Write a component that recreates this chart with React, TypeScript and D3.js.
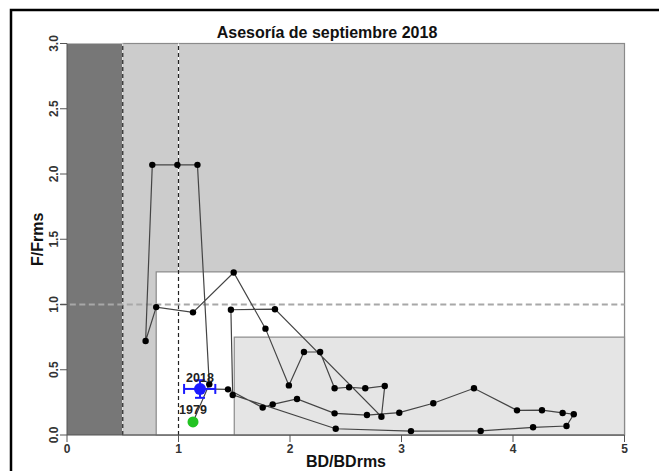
import React from 'react';
import * as d3 from 'd3';

// BD/BDrms and F/Frms, 1979 .. 2018
const bdValues = [
  1.13, 1.276, 1.17, 0.99, 0.765, 0.705, 0.8, 1.13, 1.495, 1.78,
  1.99, 2.125, 2.27, 2.4, 2.53, 2.675, 2.85, 2.82, 1.865, 1.47,
  1.486, 2.41, 3.085, 3.71, 4.18, 4.48, 4.545, 4.445, 4.26, 4.036,
  3.65, 3.285, 2.98, 2.69, 2.4, 2.063, 1.845, 1.755, 1.444, 1.193
];
const fValues = [
  0.1, 0.389, 2.07, 2.07, 2.07, 0.72, 0.98, 0.94, 1.245, 0.815,
  0.38, 0.636, 0.636, 0.358, 0.366, 0.358, 0.376, 0.14, 0.964, 0.96,
  0.307, 0.048, 0.03, 0.031, 0.059, 0.069, 0.159, 0.169, 0.19, 0.189,
  0.358, 0.243, 0.171, 0.153, 0.166, 0.276, 0.235, 0.21, 0.35, 0.353
];
const endYears = ['1979', '2018'];

// uncertainty of the last assessment
const errBD = [1.05, 1.33];
const errF = [0.285, 0.42];

// reference zones
const bdLim = 0.5;
const bdTarget = 0.8;
const bdInner = 1.5;
const fUpper = 1.25;
const fInner = 0.75;
const refLines = { bd: [0.5, 1], f: [1] };

const xTicks = [0, 1, 2, 3, 4, 5];
const yTicks = [0, 0.5, 1, 1.5, 2, 2.5, 3];

const W = 659;
const H = 471;
const FONT = '"Liberation Sans", Arial, sans-serif';

const App: React.FC = () => {
  const x = d3.scaleLinear().domain([0, 5]).range([67, 624.5]);
  const y = d3.scaleLinear().domain([0, 3]).range([435, 43.5]);

  const pts = bdValues.map((b, i) => [b, fValues[i]] as [number, number]);
  const line = d3.line<[number, number]>().x(d => x(d[0])).y(d => y(d[1]));

  const first = pts[0];
  const last = pts[pts.length - 1];
  const zoneStroke = '#8a8a8a';

  return (
    <svg width={W} height={H} style={{ position: 'absolute', left: 0, top: 0, background: '#fff' }}
      fontFamily={FONT}>
      {/* zones */}
      <rect x={x(bdLim)} y={y(3)} width={x(5) - x(bdLim)} height={y(0) - y(3)}
        fill="#cccccc" stroke={zoneStroke} strokeWidth={1.2} />
      <rect x={x(0)} y={y(3)} width={x(bdLim) - x(0)} height={y(0) - y(3)} fill="#777777" />
      <rect x={x(bdTarget)} y={y(fUpper)} width={x(5) - x(bdTarget)} height={y(0) - y(fUpper)}
        fill="#ffffff" stroke={zoneStroke} strokeWidth={1.2} />
      <rect x={x(bdInner)} y={y(fInner)} width={x(5) - x(bdInner)} height={y(0) - y(fInner)}
        fill="#e5e5e5" stroke={zoneStroke} strokeWidth={1.2} />

      {/* reference lines */}
      {refLines.bd.map(v => (
        <g key={'v' + v}>
          <line x1={x(v)} x2={x(v)} y1={y(0)} y2={y(3)} stroke="#fff" strokeWidth={1} />
          <line x1={x(v)} x2={x(v)} y1={y(0)} y2={y(3)} stroke="#222" strokeWidth={1.2}
            strokeDasharray="4,3" />
        </g>
      ))}
      {refLines.f.map(v => (
        <line key={'h' + v} x1={x(-0.06)} x2={x(5)} y1={y(v)} y2={y(v)}
          stroke="#a8a8a8" strokeWidth={2} strokeDasharray="6,3.5" />
      ))}

      {/* trajectory */}
      <path d={line(pts) || ''} fill="none" stroke="#444" strokeWidth={1.2} />
      {pts.map((p, i) => (
        <circle key={i} cx={x(p[0])} cy={y(p[1])} r={3.2} fill="#000" />
      ))}

      {/* first year */}
      <circle cx={x(first[0])} cy={y(first[1])} r={5.5} fill="#22c322" />
      <text x={x(first[0])} y={y(first[1]) - 8} textAnchor="middle" fontSize={12.5}
        fontWeight="bold" fill="#222">{endYears[0]}</text>

      {/* last year with error bars */}
      <g stroke="#1a1aff" strokeWidth={2}>
        <line x1={x(errBD[0])} x2={x(errBD[1])} y1={y(last[1])} y2={y(last[1])} />
        <line x1={x(errBD[0])} x2={x(errBD[0])} y1={y(last[1]) - 5} y2={y(last[1]) + 5} />
        <line x1={x(errBD[1])} x2={x(errBD[1])} y1={y(last[1]) - 5} y2={y(last[1]) + 5} />
        <line x1={x(last[0])} x2={x(last[0])} y1={y(errF[0])} y2={y(errF[1])} />
        <line x1={x(last[0]) - 5} x2={x(last[0]) + 5} y1={y(errF[0])} y2={y(errF[0])} />
        <line x1={x(last[0]) - 5} x2={x(last[0]) + 5} y1={y(errF[1])} y2={y(errF[1])} />
      </g>
      <circle cx={x(last[0])} cy={y(last[1])} r={6} fill="#1a1aff" />
      <text x={x(last[0])} y={y(last[1]) - 7} textAnchor="middle" fontSize={12.5}
        fontWeight="bold" fill="#222">{endYears[1]}</text>

      {/* axes */}
      <g stroke="#555" strokeWidth={1}>
        <line x1={x(0)} x2={x(5)} y1={y(0)} y2={y(0)} />
        <line x1={x(0)} x2={x(0)} y1={y(0)} y2={y(3)} />
        {xTicks.map(t => (
          <line key={'xt' + t} x1={x(t)} x2={x(t)} y1={y(0)} y2={y(0) + 7} />
        ))}
        {yTicks.map(t => (
          <line key={'yt' + t} x1={x(0) - 7} x2={x(0)} y1={y(t)} y2={y(t)} />
        ))}
      </g>
      {xTicks.map(t => (
        <text key={'xl' + t} x={x(t)} y={453} textAnchor="middle" fontSize={12}
          fontWeight="bold" fill="#333">{t}</text>
      ))}
      {yTicks.map(t => (
        <text key={'yl' + t} transform={`translate(58,${y(t)}) rotate(-90)`} textAnchor="middle"
          fontSize={12} fontWeight="bold" fill="#333">{t.toFixed(1)}</text>
      ))}

      {/* titles */}
      <text x={327} y={37.5} textAnchor="middle" fontSize={16} fontWeight="bold" fill="#111">
        Asesoría de septiembre 2018
      </text>
      <text x={346} y={467} textAnchor="middle" fontSize={16} fontWeight="bold" fill="#111">
        BD/BDrms
      </text>
      <text transform={`translate(43,${(y(0) + y(3)) / 2}) rotate(-90)`} textAnchor="middle"
        fontSize={16} fontWeight="bold" fill="#111">F/Frms</text>

      {/* outer frame */}
      <rect x={11} y={10} width={W + 20} height={H + 20} fill="none" stroke="#000" strokeWidth={2.5} />
    </svg>
  );
};

export default App;
